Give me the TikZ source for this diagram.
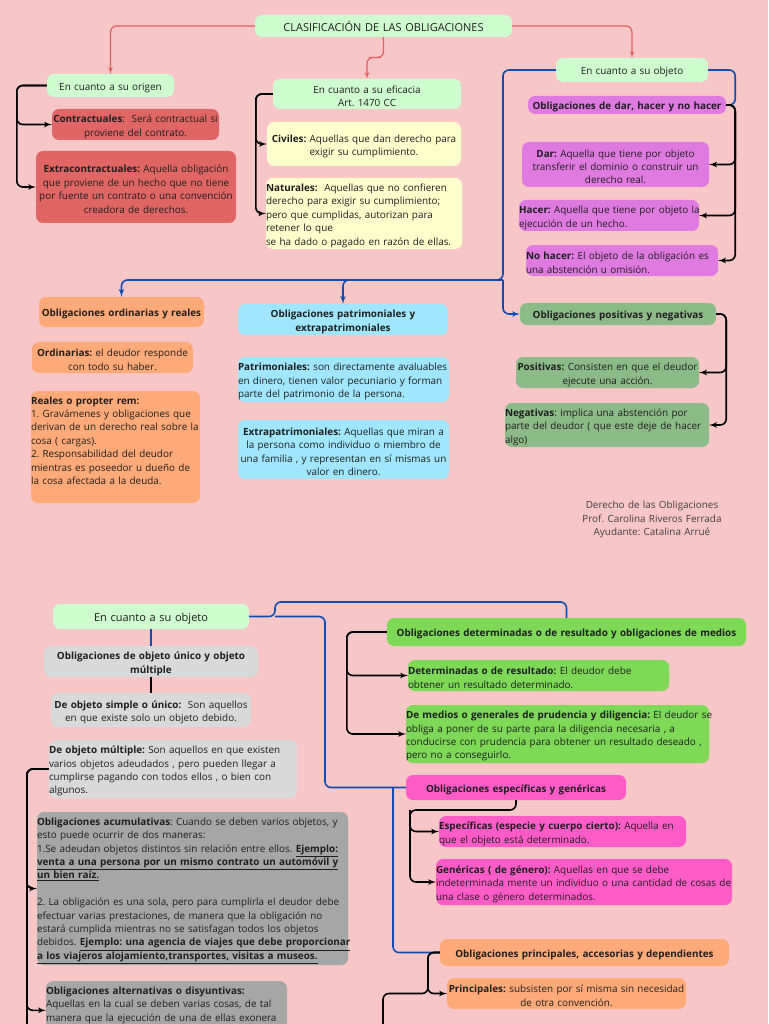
\documentclass[tikz,border=0pt]{standalone}
\usepackage{fontspec}
\setmainfont{Open Sans}
\usetikzlibrary{arrows}
\definecolor{bgpink}{RGB}{247,198,199}
\definecolor{mint}{RGB}{207,252,207}
\definecolor{redfill}{RGB}{224,102,102}
\definecolor{yelfill}{RGB}{255,255,204}
\definecolor{purfill}{RGB}{224,122,224}
\definecolor{sagefill}{RGB}{140,187,136}
\definecolor{peachfill}{RGB}{255,170,120}
\definecolor{skyfill}{RGB}{160,230,255}
\definecolor{greyfill}{RGB}{217,217,217}
\definecolor{dgreyfill}{RGB}{166,166,166}
\definecolor{limefill}{RGB}{126,217,87}
\definecolor{hotfill}{RGB}{255,92,200}
\definecolor{redwire}{RGB}{224,96,96}
\definecolor{bluewire}{RGB}{16,76,180}
\definecolor{ink}{RGB}{30,30,30}
\newcommand{\bodyfont}{\fontsize{9.9}{13.4}\selectfont\frenchspacing}
\newcommand{\bigfont}{\fontsize{11}{13.4}\selectfont\frenchspacing}
\newcommand{\fullline}[1]{\makebox[\linewidth][s]{#1}}
\newcommand{\ub}[1]{\underline{\textbf{#1}}}
\tikzset{
  basenode/.style = {align=center, inner xsep=0pt, inner ysep=1pt,
    rounded corners=7pt, text=ink, font=\bodyfont,
    execute at begin node={\rule{0pt}{12pt}}},
  mintnode/.style = {basenode, fill=mint},
  rednode/.style = {basenode, fill=redfill},
  yelnode/.style = {basenode, fill=yelfill},
  purnode/.style = {basenode, fill=purfill},
  sagenode/.style = {basenode, fill=sagefill},
  peachnode/.style = {basenode, fill=peachfill},
  skynode/.style = {basenode, fill=skyfill},
  greynode/.style = {basenode, fill=greyfill},
  dgreynode/.style = {basenode, fill=dgreyfill},
  limenode/.style = {basenode, fill=limefill},
  hotnode/.style = {basenode, fill=hotfill},
  leftnode/.style = {align=left},
  rededge/.style = {draw=redwire, line width=1.2pt, rounded corners=6pt},
  blackedge/.style = {draw=black, line width=1.6pt, rounded corners=6pt},
  blueedge/.style = {draw=bluewire, line width=1.6pt, rounded corners=6pt},
}

\begin{document}
\begin{tikzpicture}[x=1pt, y=-1pt, >=latex']
  \useasboundingbox (0,0) rectangle (768,1024);
  \fill [bgpink] (0,0) rectangle (768,1024);

  % upper map
  \node [mintnode, font=\bigfont, text width=257, minimum height=22] (title) at (383.5,26)
    {CLASIFICACIÓN DE LAS OBLIGACIONES};
  \node [mintnode, text width=127, minimum height=23] (origen) at (110.5,85.5)
    {En cuanto a su origen};
  \node [rednode, text width=167, minimum height=31] (contr) at (135.5,124.5)
    {\textbf{Contractuales}:~ Será contractual si\\proviene del contrato.};
  \node [rednode, text width=200, minimum height=72] (extra) at (136,187)
    {\textbf{Extracontractuales:} Aquella obligación\\que proviene de un hecho que no tiene\\por fuente un contrato o una convención\\creadora de derechos.};
  \node [mintnode, text width=188, minimum height=30] (eficacia) at (367,94)
    {En cuanto a su eficacia\\Art. 1470 CC};
  \node [yelnode, text width=194, minimum height=44] (civiles) at (364,144)
    {\textbf{Civiles:} Aquellas que dan derecho para\\exigir su cumplimiento.};
  \node [yelnode, leftnode, text width=196, minimum height=71] (naturales) at (364,213.5)
    {\textbf{Naturales:}~ Aquellas que no confieren\\derecho para exigir su cumplimiento;\\pero que cumplidas, autorizan para\\retener lo que\\se ha dado o pagado en razón de ellas.};
  \node [mintnode, text width=152, minimum height=24] (objeto) at (632,70)
    {En cuanto a su objeto};
  \node [purnode, text width=198, minimum height=18] (dhnh) at (627,105)
    {\textbf{Obligaciones de dar, hacer y no hacer}};
  \node [purnode, text width=187, minimum height=45] (dar) at (615.5,164.5)
    {\textbf{Dar:} Aquella que tiene por objeto\\transferir el dominio o construir un\\derecho real.};
  \node [purnode, leftnode, text width=180, minimum height=31] (hacer) at (609,215.5)
    {\mbox{\textbf{Hacer:} Aquella que tiene por objeto la}\\ejecución de un hecho.};
  \node [purnode, leftnode, text width=192, minimum height=31] (nohacer) at (622,260.5)
    {\textbf{No hacer:} El objeto de la obligación es\\una abstención u omisión.};
  \node [sagenode, text width=196, minimum height=22] (posneg) at (618,314)
    {\textbf{Obligaciones positivas y negativas}};
  \node [sagenode, text width=183, minimum height=31] (positivas) at (607.5,372.5)
    {\textbf{Positivas:} Consisten en que el deudor\\ejecute una acción.};
  \node [sagenode, leftnode, text width=204, minimum height=44] (negativas) at (607,425)
    {\textbf{Negativas}: implica una abstención por\\parte del deudor ( que este deje de hacer\\algo)};
  \node [peachnode, text width=165, minimum height=30] (ordreal) at (121.5,312)
    {\textbf{Obligaciones ordinarias y reales}};
  \node [peachnode, text width=161, minimum height=31] (ordinarias) at (112.5,357.5)
    {\textbf{Ordinarias:} el deudor responde\\con todo su haber.};
  \node [peachnode, leftnode, text width=169, minimum height=112] (reales) at (115.5,447)
    {\textbf{Reales o propter rem:}\\1. Gravámenes y obligaciones que\\derivan de un derecho real sobre la\\cosa ( cargas).\\2. Responsabilidad del deudor\\mientras es poseedor u dueño de\\la cosa afectada a la deuda.\\\strut};
  \node [skynode, text width=210, minimum height=31] (patrhead) at (343,319.5)
    {\textbf{Obligaciones patrimoniales y}\\\textbf{extrapatrimoniales}};
  \node [skynode, leftnode, text width=211, minimum height=45] (patr) at (343.5,379.5)
    {\mbox{\textbf{Patrimoniales:} son directamente avaluables}\\en dinero, tienen valor pecuniario y forman\\parte del patrimonio de la persona.};
  \node [skynode, text width=211, minimum height=59] (extrapatr) at (343.5,449.5)
    {\textbf{Extrapatrimoniales:} Aquellas que miran a\\la persona como individuo o miembro de\\una familia , y representan en sí mismas un\\valor en dinero.};
  \node [basenode, text width=170, text=black!75] (credits) at (652,517.5)
    {Derecho de las Obligaciones\\Prof. Carolina Riveros Ferrada\\Ayudante: Catalina Arrué};

  \draw [rededge, ->] (title.west) -| (origen.north);
  \draw [rededge, ->] (title.south) |- (375,57.5) -| (eficacia.north);
  \draw [rededge, ->] (title.east) -| (objeto.north);
  \draw [blackedge, ->] (origen.west) -- ++(-30,0) |- (contr.west);
  \draw [blackedge, ->] (origen.west) -- ++(-30,0) |- (extra.west);
  \draw [blackedge, ->] (eficacia.west) -- ++(-17,0) |- (civiles.west);
  \draw [blackedge, ->] (eficacia.west) -- ++(-17,0) |- (naturales.west);
  \draw [blueedge] (objeto.east) -- ++(27,0) |- (dhnh.east);
  \draw [blackedge, ->] (dhnh.east) -- ++(9,0) |- (dar.east);
  \draw [blackedge, ->] (dhnh.east) -- ++(9,0) |- (hacer.east);
  \draw [blackedge, ->] (dhnh.east) -- ++(9,0) |- (nohacer.east);
  \draw [blackedge, ->] (posneg.east) -- ++(10,0) |- (positivas.east);
  \draw [blackedge, ->] (posneg.east) -- ++(10,0) |- (negativas.east);
  \coordinate (bluecorner) at (503,280);
  \draw [blueedge, ->] (objeto.west) -| (bluecorner) -| (ordreal.north);
  \draw [blueedge, ->] (bluecorner) -| (patrhead.north);
  \draw [blueedge, ->] (bluecorner) |- (posneg.west);

  % lower map
  \node [mintnode, font=\bigfont, text width=196, minimum height=25] (objeto2) at (151,616.5)
    {En cuanto a su objeto};
  \node [greynode, text width=214, minimum height=31] (unimult) at (151,661.5)
    {\textbf{Obligaciones de objeto único y objeto}\\\textbf{múltiple}};
  \node [greynode, text width=200, minimum height=34] (simple) at (151,710)
    {\textbf{De objeto simple o único:}~ Son aquellos\\en que existe solo un objeto debido.};
  \node [greynode, leftnode, text width=248, minimum height=58] (multiple) at (173,769)
    {\textbf{De objeto múltiple:} Son aquellos en que existen\\varios objetos adeudados , pero pueden llegar a\\cumplirse pagando con todos ellos , o bien con\\algunos.};
  \node [dgreynode, leftnode, text width=311, minimum height=153] (acum) at (192.5,888.5)
    {\fullline{\textbf{Obligaciones acumulativas}: Cuando se deben varios objetos, y}\\
     esto puede ocurrir de dos maneras:\\
     \fullline{1.Se adeudan objetos distintos sin relación entre ellos. \ub{Ejemplo:}}\\
     \ub{venta a una persona por un mismo contrato un automóvil y}\\
     \ub{un bien raíz.}\\[13.4pt]
     \fullline{2. La obligación es una sola, pero para cumplirla el deudor debe}\\
     \fullline{efectuar varias prestaciones, de manera que la obligación no}\\
     \fullline{estará cumplida mientras no se satisfagan todos los objetos}\\
     \fullline{debidos. \ub{Ejemplo: una agencia de viajes que debe proporcionar}}\\
     \ub{a los viajeros alojamiento,transportes, visitas a museos.}};
  \node [dgreynode, leftnode, anchor=north, text width=241, minimum height=58] (altern) at (166.5,981)
    {\textbf{Obligaciones alternativas o disyuntivas:}\\ Aquellas en la cual se deben varias cosas, de tal\\manera que la ejecución de una de ellas exonera\\\strut};
  \node [limenode, text width=359, minimum height=28] (dethead) at (566.5,632)
    {\textbf{Obligaciones determinadas o de resultado y obligaciones de medios}};
  \node [limenode, leftnode, text width=261, minimum height=31] (determ) at (538.5,675.5)
    {\textbf{Determinadas o de resultado:} El deudor debe\\obtener un resultado determinado.};
  \node [limenode, leftnode, text width=303, minimum height=58] (medios) at (557.5,734)
    {\mbox{\textbf{De medios o generales de prudencia y diligencia:} El deudor se}\\obliga a poner de su parte para la diligencia necesaria , a\\conducirse con prudencia para obtener un resultado deseado ,\\pero no a conseguirlo.};
  \node [hotnode, text width=220, minimum height=25] (esphead) at (516,787.5)
    {\textbf{Obligaciones específicas y genéricas}};
  \node [hotnode, leftnode, text width=247, minimum height=31] (espec) at (562.5,831.5)
    {\textbf{Específicas (especie y cuerpo cierto):} Aquella en\\que el objeto está determinado.};
  \node [hotnode, leftnode, text width=296, minimum height=46] (gener) at (584,882)
    {\textbf{Genéricas ( de género):} Aquellas en que se debe\\\mbox{indeterminada mente un individuo o una cantidad de cosas de}\\una clase o género determinados.};
  \node [peachnode, text width=289, minimum height=27] (princhead) at (584.5,952.5)
    {\textbf{Obligaciones principales, accesorias y dependientes}};
  \node [peachnode, text width=239, minimum height=31] (princ) at (566.5,993.5)
    {\textbf{Principales:} subsisten por sí misma sin necesidad\\de otra convención.};

  \draw [blueedge] (objeto2.south) -- (unimult.north);
  \draw [blackedge] (unimult.south) -- (simple.north);
  \coordinate (fork) at (275,616.5);
  \coordinate (topbend) at (566.5,602);
  \coordinate (sidebend) at (325,787.5);
  \coordinate (lowbend) at (393,787.5);
  \draw [blueedge] (objeto2.east) -- (fork) |- (topbend) -- (dethead.north);
  \draw [blueedge] (fork) -| (sidebend) -- (esphead.west);
  \draw [blueedge] (lowbend) |- (princhead.west);
  \draw [blackedge, ->] (dethead.west) -- ++(-40,0) |- (determ.west);
  \draw [blackedge, ->] (dethead.west) -- ++(-40,0) |- (medios.west);
  \coordinate (specbend) at (410,810);
  \draw [blackedge, ->] (esphead.south) |- (specbend) |- (espec.west);
  \draw [blackedge, ->] (specbend) |- (gener.west);
  \coordinate (offleft) at (27,1030);
  \coordinate (offmid) at (383,1030);
  \draw [blackedge, ->] (multiple.west) -- ++(-22,0) |- (acum.west);
  \draw [blackedge, ->] (multiple.west) -- ++(-22,0) |- (altern.west);
  \draw [blackedge] (multiple.west) -| (offleft);
  \draw [blackedge, ->] (princhead.west) -- ++(-12,0) |- (princ.west);
  \draw [blackedge] (princhead.west) -| (428,993.5) -| (offmid);
\end{tikzpicture}
\end{document}
